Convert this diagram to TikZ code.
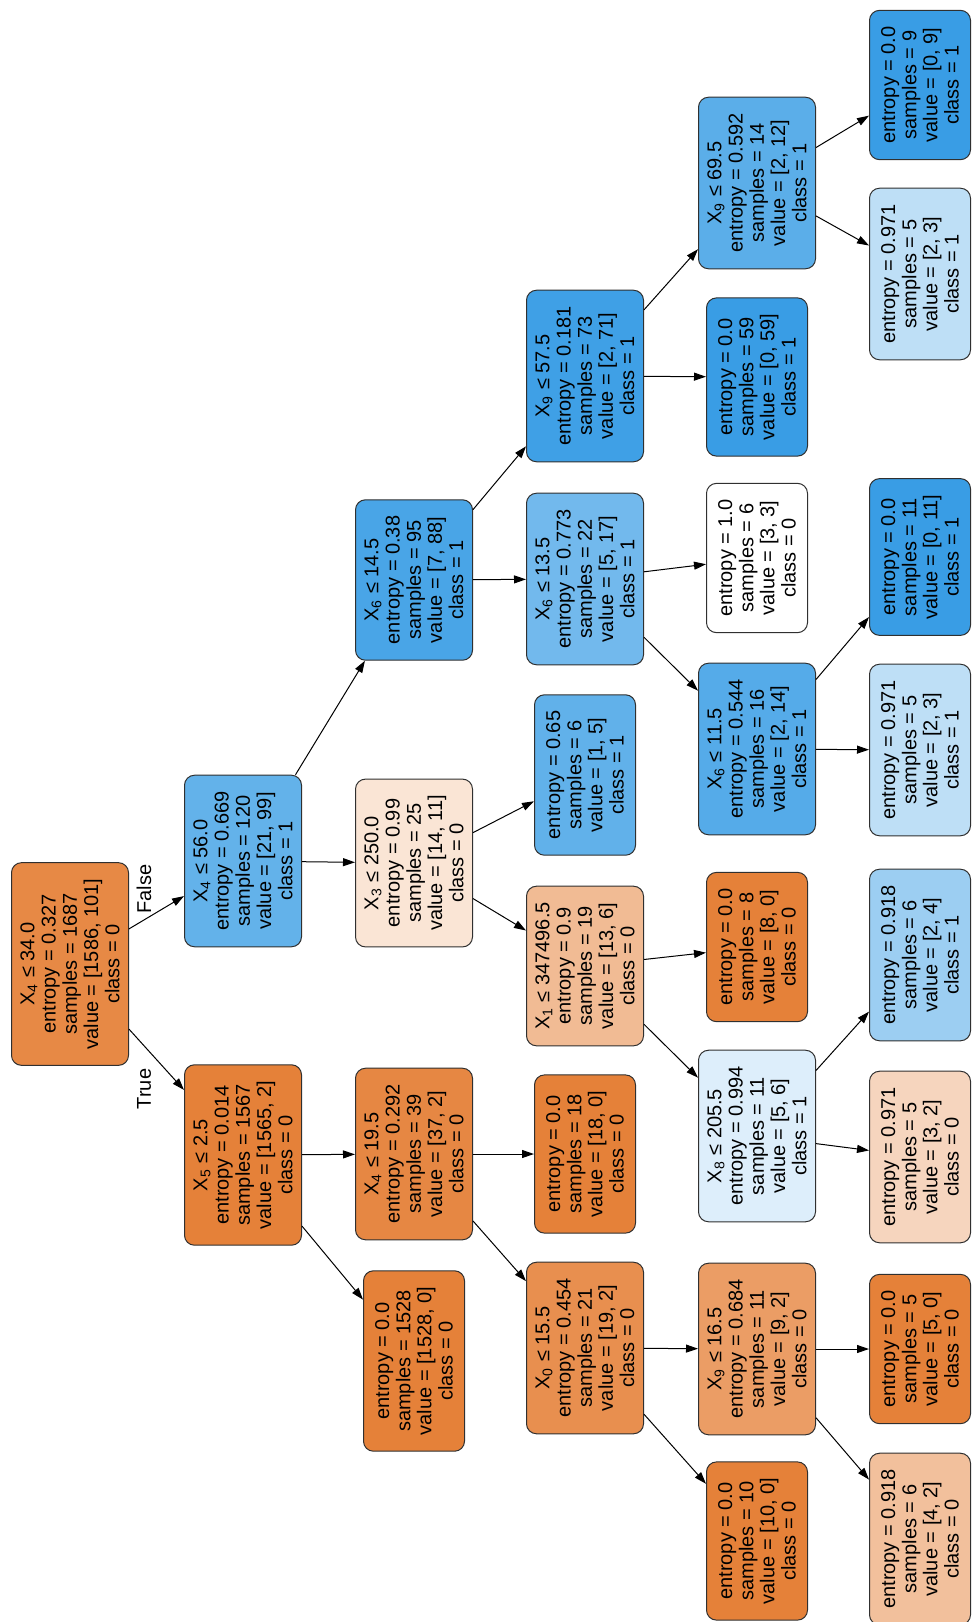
\documentclass[tikz,border=0pt]{standalone}
\usepackage{fontspec}
\setmainfont{Liberation Sans}
\usetikzlibrary{arrows.meta}
\definecolor{dtlaranja}{HTML}{E58139}
\definecolor{dtazul}{HTML}{399DE5}
\definecolor{dtborda}{HTML}{303030}
\tikzset{
  dtno/.style={draw=dtborda, line width=0.5pt, rounded corners=5pt, rotate=90, align=center,
               font=\fontsize{10}{10.6}\selectfont, inner xsep=8pt, inner ysep=3pt, minimum height=58.5pt},
  dtfolha/.style={dtno, minimum height=50.5pt},
  dtseta/.style={-{Triangle[length=6pt, width=4pt]}, line width=0.5pt, draw=black},
  dtrotulo/.style={rotate=90, font=\fontsize{10}{10.6}\selectfont},
}

\begin{document}
\begin{tikzpicture}[x=0.5pt, y=-0.5pt]
        \useasboundingbox (0,0) rectangle (973,1622);
        % ---------------- raiz e primeiro nivel ----------------
        \node[dtno, fill=dtlaranja!94!white] (n0) at (70,964) {X\textsubscript{4} ≤ 34.0\\ entropy = 0.327\\ samples = 1687\\ value = [1586, 101]\\ class = 0};
        \node[dtno, fill=dtazul!79!white] (n1) at (243,861) {X\textsubscript{4} ≤ 56.0\\ entropy = 0.669\\ samples = 120\\ value = [21, 99]\\ class = 1};
        \node[dtno, fill=dtlaranja] (n2) at (243,1155) {X\textsubscript{5} ≤ 2.5\\ entropy = 0.014\\ samples = 1567\\ value = [1565, 2]\\ class = 0};
        \node[dtrotulo] (rfalse) at (144,889) {False};
        \node[dtrotulo] (rtrue) at (144,1089) {True};
        % ---------------- segundo nivel ----------------
        \node[dtno, fill=dtazul!92!white] (n3) at (414,580) {X\textsubscript{6} ≤ 14.5\\ entropy = 0.38\\ samples = 95\\ value = [7, 88]\\ class = 1};
        \node[dtno, fill=dtlaranja!21!white] (n4) at (414,863) {X\textsubscript{3} ≤ 250.0\\ entropy = 0.99\\ samples = 25\\ value = [14, 11]\\ class = 0};
        \node[dtno, fill=dtlaranja!95!white] (n5) at (414,1154) {X\textsubscript{4} ≤ 19.5\\ entropy = 0.292\\ samples = 39\\ value = [37, 2]\\ class = 0};
        \node[dtfolha, fill=dtlaranja] (n6) at (414,1361) {entropy = 0.0\\ samples = 1528\\ value = [1528, 0]\\ class = 0};
        % ---------------- terceiro nivel ----------------
        \node[dtno, fill=dtazul!97!white] (n7) at (585,376) {X\textsubscript{9} ≤ 57.5\\ entropy = 0.181\\ samples = 73\\ value = [2, 71]\\ class = 1};
        \node[dtno, fill=dtazul!71!white] (n8) at (585,579) {X\textsubscript{6} ≤ 13.5\\ entropy = 0.773\\ samples = 22\\ value = [5, 17]\\ class = 1};
        \node[dtfolha, fill=dtazul!80!white] (n9) at (585,775) {entropy = 0.65\\ samples = 6\\ value = [1, 5]\\ class = 1};
        \node[dtno, fill=dtlaranja!54!white] (n10) at (585,966) {X\textsubscript{1} ≤ 347496.5\\ entropy = 0.9\\ samples = 19\\ value = [13, 6]\\ class = 0};
        \node[dtfolha, fill=dtlaranja] (n11) at (585,1154) {entropy = 0.0\\ samples = 18\\ value = [18, 0]\\ class = 0};
        \node[dtno, fill=dtlaranja!89!white] (n12) at (585,1348) {X\textsubscript{0} ≤ 15.5\\ entropy = 0.454\\ samples = 21\\ value = [19, 2]\\ class = 0};
        % ---------------- quarto nivel ----------------
        \node[dtno, fill=dtazul!83!white] (n13) at (757,183) {X\textsubscript{9} ≤ 69.5\\ entropy = 0.592\\ samples = 14\\ value = [2, 12]\\ class = 1};
        \node[dtfolha, fill=dtazul] (n14) at (757,377) {entropy = 0.0\\ samples = 59\\ value = [0, 59]\\ class = 1};
        \node[dtfolha, fill=white] (n15) at (757,558) {entropy = 1.0\\ samples = 6\\ value = [3, 3]\\ class = 0};
        \node[dtno, fill=dtazul!86!white] (n16) at (757,749) {X\textsubscript{6} ≤ 11.5\\ entropy = 0.544\\ samples = 16\\ value = [2, 14]\\ class = 1};
        \node[dtfolha, fill=dtlaranja] (n17) at (757,947) {entropy = 0.0\\ samples = 8\\ value = [8, 0]\\ class = 0};
        \node[dtno, fill=dtazul!17!white] (n18) at (757,1136) {X\textsubscript{8} ≤ 205.5\\ entropy = 0.994\\ samples = 11\\ value = [5, 6]\\ class = 1};
        \node[dtno, fill=dtlaranja!78!white] (n19) at (757,1349) {X\textsubscript{9} ≤ 16.5\\ entropy = 0.684\\ samples = 11\\ value = [9, 2]\\ class = 0};
        \node[dtfolha, fill=dtlaranja] (n20) at (757,1541) {entropy = 0.0\\ samples = 10\\ value = [10, 0]\\ class = 0};
        % ---------------- folhas finais ----------------
        \node[dtfolha, fill=dtazul] (n21) at (920,85) {entropy = 0.0\\ samples = 9\\ value = [0, 9]\\ class = 1};
        \node[dtfolha, fill=dtazul!33!white] (n22) at (920,274) {entropy = 0.971\\ samples = 5\\ value = [2, 3]\\ class = 1};
        \node[dtfolha, fill=dtazul] (n23) at (920,557) {entropy = 0.0\\ samples = 11\\ value = [0, 11]\\ class = 1};
        \node[dtfolha, fill=dtazul!33!white] (n24) at (920,750) {entropy = 0.971\\ samples = 5\\ value = [2, 3]\\ class = 1};
        \node[dtfolha, fill=dtazul!50!white] (n25) at (920,955) {entropy = 0.918\\ samples = 6\\ value = [2, 4]\\ class = 1};
        \node[dtfolha, fill=dtlaranja!33!white] (n26) at (920,1157) {entropy = 0.971\\ samples = 5\\ value = [3, 2]\\ class = 0};
        \node[dtfolha, fill=dtlaranja] (n27) at (920,1349) {entropy = 0.0\\ samples = 5\\ value = [5, 0]\\ class = 0};
        \node[dtfolha, fill=dtlaranja!50!white] (n28) at (920,1539) {entropy = 0.918\\ samples = 6\\ value = [4, 2]\\ class = 0};
        % ---------------- arestas ----------------
        \foreach \a/\b in {n0/n1, n0/n2, n1/n3, n1/n4, n2/n5, n2/n6, n3/n7, n3/n8, n4/n9, n4/n10,
                           n5/n11, n5/n12, n7/n13, n7/n14, n8/n15, n8/n16, n10/n17, n10/n18,
                           n12/n19, n12/n20, n13/n21, n13/n22, n16/n23, n16/n24, n18/n25, n18/n26,
                           n19/n27, n19/n28} {\draw[dtseta] (\a) -- (\b);}
    \end{tikzpicture}
\end{document}
